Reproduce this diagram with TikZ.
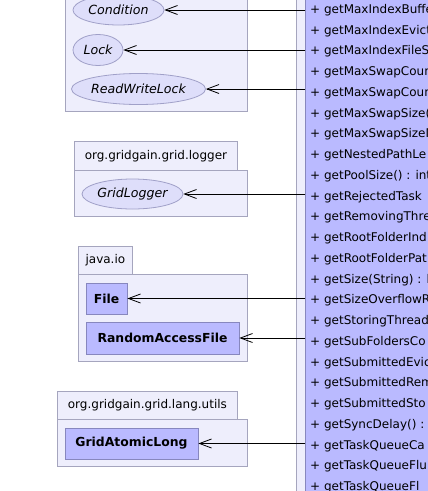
\documentclass[tikz,border=0pt]{standalone}
\usepackage{fontspec}
\setmainfont{DejaVu Sans}
\usetikzlibrary{arrows.meta, positioning, shapes.geometric}
\definecolor{pkgfill}{RGB}{238,238,252}
\definecolor{pkgline}{RGB}{165,165,190}
\definecolor{clsfill}{RGB}{186,186,255}
\definecolor{clsline}{RGB}{135,135,190}
\definecolor{iffill}{RGB}{222,222,250}
\definecolor{ifline}{RGB}{160,160,200}
\tikzset{
  pkgbody/.style={rectangle, draw=pkgline, fill=pkgfill, line width=0.8pt,
    inner sep=0pt, anchor=south west},
  pkgtab/.style={rectangle, draw=pkgline, fill=pkgfill, line width=0.8pt,
    inner sep=0pt, anchor=south west, font=\fontsize{12}{14}\selectfont},
  iface/.style={ellipse, draw=ifline, fill=iffill, line width=0.8pt,
    inner sep=0pt, font=\fontsize{12.6}{14}\selectfont\itshape},
  klass/.style={rectangle, draw=clsline, fill=clsfill, line width=0.8pt,
    inner sep=0pt, font=\fontsize{12.4}{14}\selectfont\bfseries},
  dep/.style={-{Straight Barb[length=12pt, width=9pt]}, line width=0.8pt, black}
}

\begin{document}
\begin{tikzpicture}[x=1pt, y=-1pt]
  \useasboundingbox (0,0) rectangle (428,491);
  \clip (0,0) rectangle (428,491);

  % --- java.util.concurrent.locks (tab is out of view) ---
  \node[pkgbody, minimum width=182, minimum height=122] (locks) at (65,112) {};
  \node[iface, minimum width=91, minimum height=30] (cond) at (118.5,10) {Condition};
  \node[iface, minimum width=50, minimum height=31] (lock) at (98,50) {Lock};
  \node[iface, minimum width=131, minimum height=31] (rwlock) at (138.5,89) {ReadWriteLock};

  % --- org.gridgain.grid.logger ---
  \node[pkgtab, minimum width=163, minimum height=29] (loggertab) at (74,171) {org.gridgain.grid.logger};
  \node[pkgbody, minimum width=173, minimum height=46] (logger) at (74,217) {};
  \node[iface, minimum width=101, minimum height=30] (gridlogger) at (132.5,194) {GridLogger};

  % --- java.io ---
  \node[pkgtab, minimum width=54, minimum height=28] (iotab) at (78,275) {java.io};
  \node[pkgbody, minimum width=169, minimum height=87] (io) at (78,362) {};
  \node[klass, minimum width=41, minimum height=31] (file) at (106.5,298.5) {File};
  \node[klass, minimum width=153, minimum height=32] (raf) at (162.5,338) {RandomAccessFile};

  % --- org.gridgain.grid.lang.utils ---
  \node[pkgtab, minimum width=180, minimum height=28] (utilstab) at (57,420) {org.gridgain.grid.lang.utils};
  \node[pkgbody, minimum width=190, minimum height=47] (utils) at (57,467) {};
  \node[klass, minimum width=133, minimum height=31] (atomic) at (131.5,443.5) {GridAtomicLong};

  % --- swap space class (name is out of view) ---
  \node[pkgbody, minimum width=150, minimum height=520] (swappkg) at (296,505) {};
  \node[klass, anchor=south west, minimum width=140, minimum height=520] (swap) at (305,505) {};
  \node[anchor=north west, inner sep=0pt, align=left,
    font=\fontsize{12}{20.75}\selectfont] (ops) at (310,4) {%
    + getMaxIndexBuffer\\
    + getMaxIndexEvicti\\
    + getMaxIndexFileSi\\
    + getMaxSwapCount\\
    + getMaxSwapCount\\
    + getMaxSwapSize()\\
    + getMaxSwapSizeM\\
    + getNestedPathLe\\
    + getPoolSize() : int\\
    + getRejectedTask\\
    + getRemovingThre\\
    + getRootFolderInd\\
    + getRootFolderPat\\
    + getSize(String) : l\\
    + getSizeOverflowR\\
    + getStoringThread\\
    + getSubFoldersCo\\
    + getSubmittedEvic\\
    + getSubmittedRem\\
    + getSubmittedSto\\
    + getSyncDelay() :\\
    + getTaskQueueCa\\
    + getTaskQueueFlu\\
    + getTaskQueueFl};

  % Dependencies
  \draw[dep] (swap.west |- cond) -- (cond);
  \draw[dep] (swap.west |- lock) -- (lock);
  \draw[dep] (swap.west |- rwlock) -- (rwlock);
  \draw[dep] (swap.west |- gridlogger) -- (gridlogger);
  \draw[dep] (swap.west |- file) -- (file);
  \draw[dep] (swap.west |- raf) -- (raf);
  \draw[dep] (swap.west |- atomic) -- (atomic);
\end{tikzpicture}
\end{document}
